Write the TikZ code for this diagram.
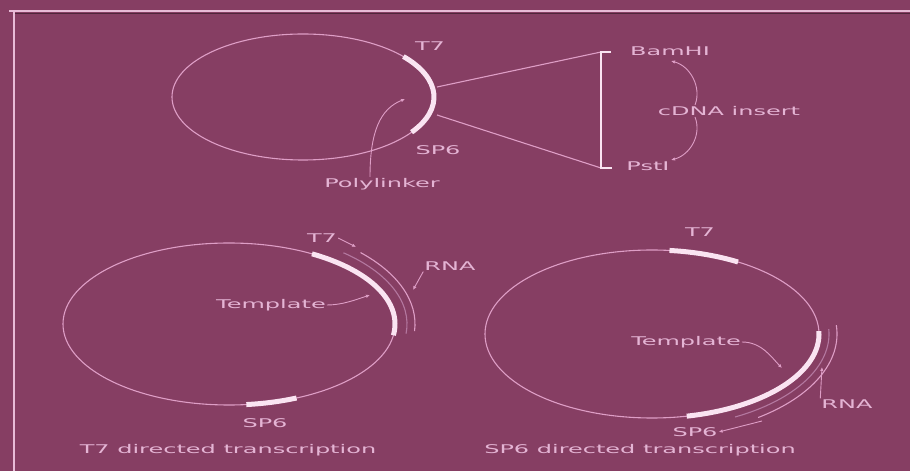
\documentclass[tikz,border=0pt]{standalone}
\usepackage{fontspec}
\setmainfont{DejaVu Sans}
\usetikzlibrary{arrows.meta}
\definecolor{bg}{RGB}{134,62,99}
\definecolor{ln}{RGB}{222,158,198}
\definecolor{wh}{RGB}{250,228,242}
\definecolor{tx}{RGB}{228,180,212}
\definecolor{dim}{RGB}{180,120,160}
\newcommand\wide[1]{\scalebox{2}[1]{#1}}
\begin{document}
\begin{tikzpicture}[x=1pt,y=1pt,
  lbl/.style={text=tx, font=\fontsize{12}{14}\selectfont, inner sep=1pt},
  thinln/.style={draw=ln, line width=1.1pt},
  dimln/.style={draw=dim, line width=1.1pt},
  plas/.style={draw=wh, line width=5pt},
  arr/.style={draw=ln, line width=0.9pt, -{Latex[length=4pt,width=3.5pt]}},
  brk/.style={draw=wh, line width=2.6pt}]
\fill[bg] (0,0) rectangle (910,471);
\useasboundingbox (0,0) rectangle (910,471);
% frame
\draw[draw=ln!70!white, line width=1.6pt] (9,460) -- (910,460);
\draw[draw=bg!60!black, line width=1pt] (14,457.5) -- (910,457.5);
\draw[draw=ln!70!white, line width=1.6pt] (14,460) -- (14,0);
% ---------- top plasmid ----------
\draw[thinln] (303,374) ellipse [x radius=131pt, y radius=63pt];
\draw[plas] (303,374) ++(40:131pt and 63pt) arc[start angle=40, end angle=-34, x radius=131pt, y radius=63pt];
\node[lbl] (t7a) at (430,425) {\wide{T7}};
\node[lbl] (sp6a) at (438,321) {\wide{SP6}};
\node[lbl] (poly) at (382,287) {\wide{Polylinker}};
\coordinate (plk) at (405,372);
\draw[arr] ([xshift=-12pt]poly.north) .. controls +(0,45) and +(-25,-10) .. (plk);
\coordinate (a1) at (437,384);
\coordinate (a2) at (437,356);
\coordinate (bt) at (601,419);
\coordinate (bb) at (601,303);
\draw[thinln] (a1) -- (bt);
\draw[thinln] (a2) -- (bb);
\draw[brk] ([xshift=10pt]bt) -- (bt) -- (bb) -- ([xshift=11pt]bb);
\node[lbl] (bam) at (670,420) {\wide{BamHI}};
\node[lbl] (pst) at (648,305) {\wide{PstI}};
\node[lbl] (cdna) at (729,360) {\wide{cDNA insert}};
\coordinate (bamt) at (671,410);
\coordinate (pstt) at (671,311);
\draw[arr] ([xshift=-34pt,yshift=6pt]cdna.center) .. controls +(7,18) and +(19,-5) .. (bamt);
\draw[arr] ([xshift=-34pt,yshift=-6pt]cdna.center) .. controls +(7,-18) and +(19,5) .. (pstt);
% ---------- bottom left ----------
\draw[thinln] (229,147) ellipse [x radius=166pt, y radius=81pt];
\draw[dimln] (229,147) ++(50:178pt and 93pt) arc[start angle=50, end angle=-6, x radius=178pt, y radius=93pt];
\draw[thinln] (229,147) ++(45:186pt and 101pt) arc[start angle=45, end angle=-4, x radius=186pt, y radius=101pt];
\draw[plas] (229,147) ++(60:166pt and 81pt) arc[start angle=60, end angle=-8, x radius=166pt, y radius=81pt];
\draw[plas] (229,147) ++(-84:166pt and 81pt) arc[start angle=-84, end angle=-66, x radius=166pt, y radius=81pt];
\node[lbl] (t7b) at (322,233) {\wide{T7}};
\coordinate (t7bt) at (356,224);
\draw[arr] (t7b.east) -- (t7bt);
\node[lbl] (rnab) at (450,205) {\wide{RNA}};
\coordinate (rnabt) at (413,181);
\draw[arr] (rnab.south west) -- (rnabt);
\node[lbl] (tmpb) at (271,166) {\wide{Template}};
\coordinate (tmpbt) at (370,176);
\draw[arr] (tmpb.east) .. controls +(15,0) and +(-15,-5) .. (tmpbt);
\node[lbl] (sp6b) at (265,48) {\wide{SP6}};
\node[lbl] (capb) at (228,21) {\wide{T7 directed transcription}};
% ---------- bottom right ----------
\draw[thinln] (652,137) ellipse [x radius=167pt, y radius=84pt];
\draw[dimln] (652,137) ++(3:177pt and 94pt) arc[start angle=3, end angle=-62, x radius=177pt, y radius=94pt];
\draw[thinln] (652,137) ++(5:185pt and 102pt) arc[start angle=5, end angle=-55, x radius=185pt, y radius=102pt];
\draw[plas] (652,137) ++(84:167pt and 84pt) arc[start angle=84, end angle=59, x radius=167pt, y radius=84pt];
\draw[plas] (652,137) ++(2:167pt and 84pt) arc[start angle=2, end angle=-78, x radius=167pt, y radius=84pt];
\node[lbl] (t7c) at (700,239) {\wide{T7}};
\node[lbl] (tmpc) at (686,129) {\wide{Template}};
\coordinate (tmpct) at (782,103);
\draw[arr] (tmpc.east) .. controls +(20,0) and +(-10,10) .. (tmpct);
\node[lbl] (rnac) at (847,67) {\wide{RNA}};
\coordinate (rnact) at (822,104);
\draw[arr] (rnac.north west) -- (rnact);
\node[lbl] (sp6c) at (695,39) {\wide{SP6}};
\coordinate (sp6cs) at (762,50);
\draw[arr] (sp6cs) -- (sp6c.east);
\node[lbl] (capc) at (640,21) {\wide{SP6 directed transcription}};
\end{tikzpicture}
\end{document}
